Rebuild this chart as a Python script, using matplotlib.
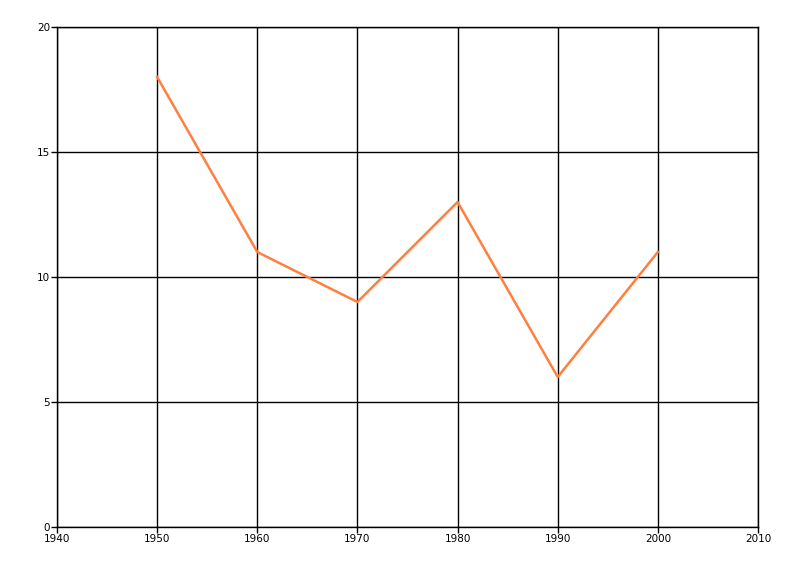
import matplotlib.pyplot as plt

years = [1950, 1960, 1970, 1980, 1990, 2000]
values = [18, 11, 9, 13, 6, 11]
x_ticks = [1940, 1950, 1960, 1970, 1980, 1990, 2000, 2010]
y_ticks = [0, 5, 10, 15, 20]

fig = plt.figure(figsize=(8, 5.76), dpi=100)
ax = fig.add_axes([57/800, 1 - 527/576, (758-57)/800, (527-27)/576])

ax.plot(years, values, color='#ff7f3f', linewidth=1.8, zorder=3)

ax.set_xlim(1940, 2010)
ax.set_ylim(0, 20)
ax.set_xticks(x_ticks)
ax.set_yticks(y_ticks)
ax.grid(True, color='black', linewidth=1.0)
for s in ax.spines.values():
    s.set_color('black')
    s.set_linewidth(1.0)
ax.tick_params(labelsize=7.5, length=4, width=1, pad=1, colors='black')

fig.savefig('out.png', dpi=100)
